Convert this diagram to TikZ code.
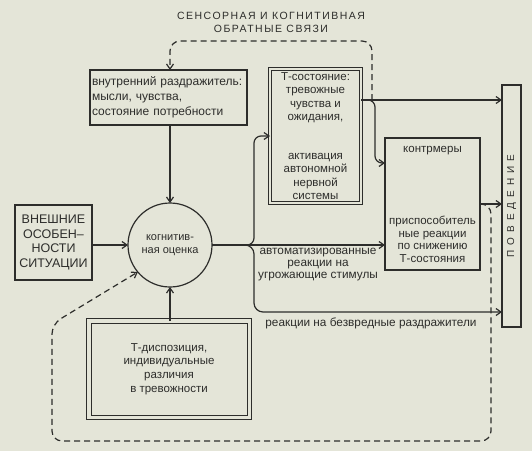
\documentclass[tikz,border=0pt]{standalone}
\usepackage{fontspec}
\setmainfont{Liberation Sans}
\usetikzlibrary{arrows.meta,calc}
\definecolor{bg}{RGB}{228,229,216}
\definecolor{ink}{RGB}{45,45,43}
\newcommand\lsp{\hspace{5pt}}
\begin{document}
\begin{tikzpicture}[x=1pt,y=-1pt,
  every node/.style={text=ink, font=\fontsize{12}{14}\selectfont},
  box/.style={draw=ink, line width=1.2pt, rectangle, inner sep=0pt, outer sep=0pt, align=center},
  arr/.style={draw=ink, line width=1.2pt, -{Straight Barb[length=5pt,width=7pt]}},
  fb/.style={arr, dash pattern=on 6pt off 4pt},
  lbl/.style={align=center, inner sep=0pt}
]
\useasboundingbox[fill=bg] (0,0) rectangle (532,451);

% title
\node[lbl, font=\fontsize{10.5}{12.5}\selectfont\addfontfeature{LetterSpace=14}] (title) at (271,22.5)
  {СЕНСОРНАЯ И КОГНИТИВНАЯ\\ОБРАТНЫЕ СВЯЗИ};

% boxes
\node[box, minimum width=157pt, minimum height=55pt, align=left, text width=153pt,
      font=\fontsize{12}{15}\selectfont] (instim) at (168.5,97.5)
  {внутренний раздражитель:\\мысли, чувства,\\состояние потребности};

\node[box, circle, minimum size=84pt, font=\fontsize{11}{13}\selectfont] (appr) at (170,245)
  {когнитив-\\ная оценка};

\node[box, line width=1.7pt, minimum width=77pt, minimum height=75pt,
      font=\fontsize{12.5}{14.5}\selectfont] (ext) at (53.5,242.5)
  {ВНЕШНИЕ\\ОСОБЕН–\\НОСТИ\\СИТУАЦИИ};

\node[box, double=bg, double distance=2.4pt, line width=0.9pt, minimum width=91pt,
      minimum height=134pt, font=\fontsize{11.5}{13.5}\selectfont] (tstate) at (315.5,136)
  {Т-состояние:\\тревожные\\чувства и\\ожидания,\\[25pt]активация\\автономной\\нервной\\системы};

\node[box, minimum width=95pt, minimum height=132pt, font=\fontsize{11.5}{12.5}\selectfont] (contr) at (432.5,204)
  {контрмеры\\[60pt]приспособитель\\ные реакции\\по снижению\\Т-состояния};

\node[box, minimum width=19pt, minimum height=242pt, font=\fontsize{10}{12}\selectfont] (behav) at (511.5,206)
  {\rotatebox{90}{П\lsp О\lsp В\lsp Е\lsp Д\lsp Е\lsp Н\lsp И\lsp Е}};

\node[box, double=bg, double distance=3.5pt, line width=1pt, minimum width=160.5pt,
      minimum height=96.5pt, font=\fontsize{11.5}{13.7}\selectfont] (tdisp) at (169,369)
  {Т-диспозиция,\\индивидуальные\\различия\\в тревожности};

% labels
\node[lbl, font=\fontsize{11.8}{12}\selectfont] (autolab) at (318,265)
  {автоматизированные\\реакции на\\угрожающие стимулы};
\node[lbl, font=\fontsize{11.8}{14}\selectfont] (harmlab) at (371,323) {реакции на безвредные раздражители};

% coordinates
\coordinate (br) at (247,245);
\coordinate (up) at (254,136);
\coordinate (hm) at (254,312);
\coordinate (jt) at (372,100);
\coordinate (cm) at (375,163);
\coordinate (tl) at (170,41);
\coordinate (rc) at (491,441);
\coordinate (lc) at (52,324);

% connectors
\draw[arr] (appr.north |- instim.south) -- (appr.north);
\draw[arr] (ext.east |- appr) -- (appr.west);
\draw[arr] (appr.south |- tdisp.north) -- (appr.south);
\draw[arr] (appr.east) -- (contr.west |- appr.east);
\draw[arr, rounded corners=7pt] (br) -| (up) -- (tstate.west);
\draw[arr, rounded corners=9pt] (br) -| (hm) -- (behav.west |- hm);
\draw[arr] (tstate.east |- jt) -- (behav.west |- jt);
\draw[arr, rounded corners=7pt] (tstate.east |- jt) -| (cm) -- (contr.west |- cm);
\draw[arr] (contr.east) -- (behav.west |- contr.east);

% feedback (dashed)
\draw[fb, rounded corners=10pt] (jt) |- (tl) -- (appr.north |- instim.north);
\draw[fb, rounded corners=10pt] (contr.east) -| (rc) -| (lc) -- (appr.220);
\end{tikzpicture}
\end{document}
